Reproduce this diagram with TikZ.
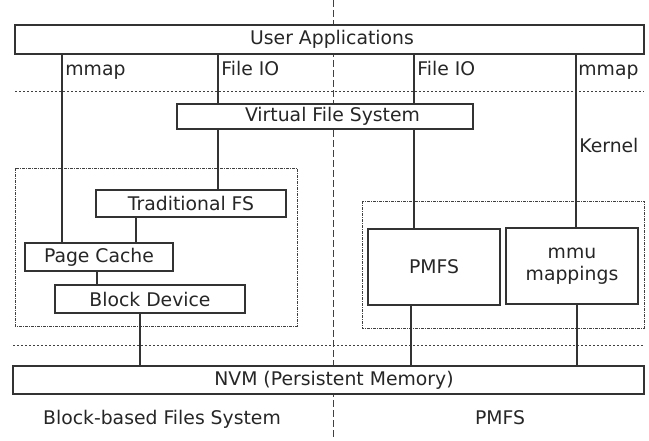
\documentclass[tikz,border=0pt]{standalone}
\usepackage{fontspec}
\setmainfont{DejaVu Sans}
\begin{document}
\begin{tikzpicture}[x=0.5pt,y=-0.5pt,
    every node/.style={font=\fontsize{9.4}{11}\selectfont, text=black!85},
    layer/.style={draw=black!80, fill=white, line width=0.6pt, inner sep=0pt, align=center},
    tag/.style={anchor=base west, inner sep=0pt},
    caption/.style={anchor=base, inner sep=0pt},
    link/.style={draw=black!80, line width=0.6pt},
    split/.style={draw=black!75, line width=0.5pt, dash pattern=on 1pt off 1pt},
    group/.style={draw=black!75, line width=0.45pt, dash pattern=on 1.5pt off 0.6pt on 0.3pt off 0.6pt}]
    \useasboundingbox (0,0) rectangle (649,440);

    % Centre divider
    \draw[black!75, line width=0.5pt, dash pattern=on 3.5pt off 1.5pt] (333,0) -- (333,440);

    % User / kernel / device borders
    \draw[split] (15,91) -- (644,91);
    \draw[split] (13,345) -- (644,345);

    % Grouping boxes
    \draw[group] (15,168) rectangle (297,326);
    \draw[group] (362,201) rectangle (644,328);

    % Layers
    \node[layer, minimum width=314.5pt, minimum height=14.5pt] (apps) at (329.5,39.5) {};
    \node (appstxt) at (332,39.5) {User Applications};
    \node[layer, minimum width=148pt, minimum height=12.5pt] (vfs) at (325,116.5) {};
    \node (vfstxt) at (332.5,116.5) {Virtual File System};
    \node[layer, minimum width=95pt, minimum height=13.5pt] (tradfs) at (191,203.5) {Traditional FS};
    \node[layer, minimum width=74pt, minimum height=14pt] (cache) at (99,257) {Page Cache};
    \node[layer, minimum width=95pt, minimum height=14pt] (blockdev) at (150,299) {Block Device};
    \node[layer, minimum width=315.5pt, minimum height=14pt] (nvm) at (328.5,380) {};
    \node (nvmtxt) at (334,380) {NVM (Persistent Memory)};
    \node[layer, minimum width=66pt, minimum height=38pt] (pmfs) at (434,267) {PMFS};
    \node[layer, minimum width=66pt, minimum height=38pt] (mmu) at (572,266) {mmu\\mappings};

    % Connector columns
    \coordinate (mmapL) at (62,0);
    \coordinate (fileL) at (218,0);
    \coordinate (tradL) at (136,0);
    \coordinate (cacheL) at (97,0);
    \coordinate (blockL) at (140,0);
    \coordinate (fileR) at (414,0);
    \coordinate (mmapR) at (576,0);
    \coordinate (pmfsR) at (411,0);
    \coordinate (mmuR) at (577,0);

    % Block-based path
    \draw[link] (apps.south -| mmapL) -- (cache.north -| mmapL);
    \draw[link] (apps.south -| fileL) -- (vfs.north -| fileL);
    \draw[link] (vfs.south -| fileL) -- (tradfs.north -| fileL);
    \draw[link] (tradfs.south -| tradL) -- (cache.north -| tradL);
    \draw[link] (cache.south -| cacheL) -- (blockdev.north -| cacheL);
    \draw[link] (blockdev.south -| blockL) -- (nvm.north -| blockL);

    % PMFS path
    \draw[link] (apps.south -| fileR) -- (vfs.north -| fileR);
    \draw[link] (vfs.south -| fileR) -- (pmfs.north -| fileR);
    \draw[link] (apps.south -| mmapR) -- (mmu.north -| mmapR);
    \draw[link] (pmfs.south -| pmfsR) -- (nvm.north -| pmfsR);
    \draw[link] (mmu.south -| mmuR) -- (nvm.north -| mmuR);

    % Labels
    \node[tag] (mmapLtxt) at (65,75) {mmap};
    \node[tag] (fileLtxt) at (221,75) {File IO};
    \node[tag] (fileRtxt) at (417,75) {File IO};
    \node[tag] (mmapRtxt) at (578,75) {mmap};
    \node[tag] (kernel) at (579,152) {Kernel};
    \node[caption] (blocktxt) at (162,424) {Block-based Files System};
    \node[caption] (pmfstxt) at (500,424) {PMFS};
\end{tikzpicture}
\end{document}
